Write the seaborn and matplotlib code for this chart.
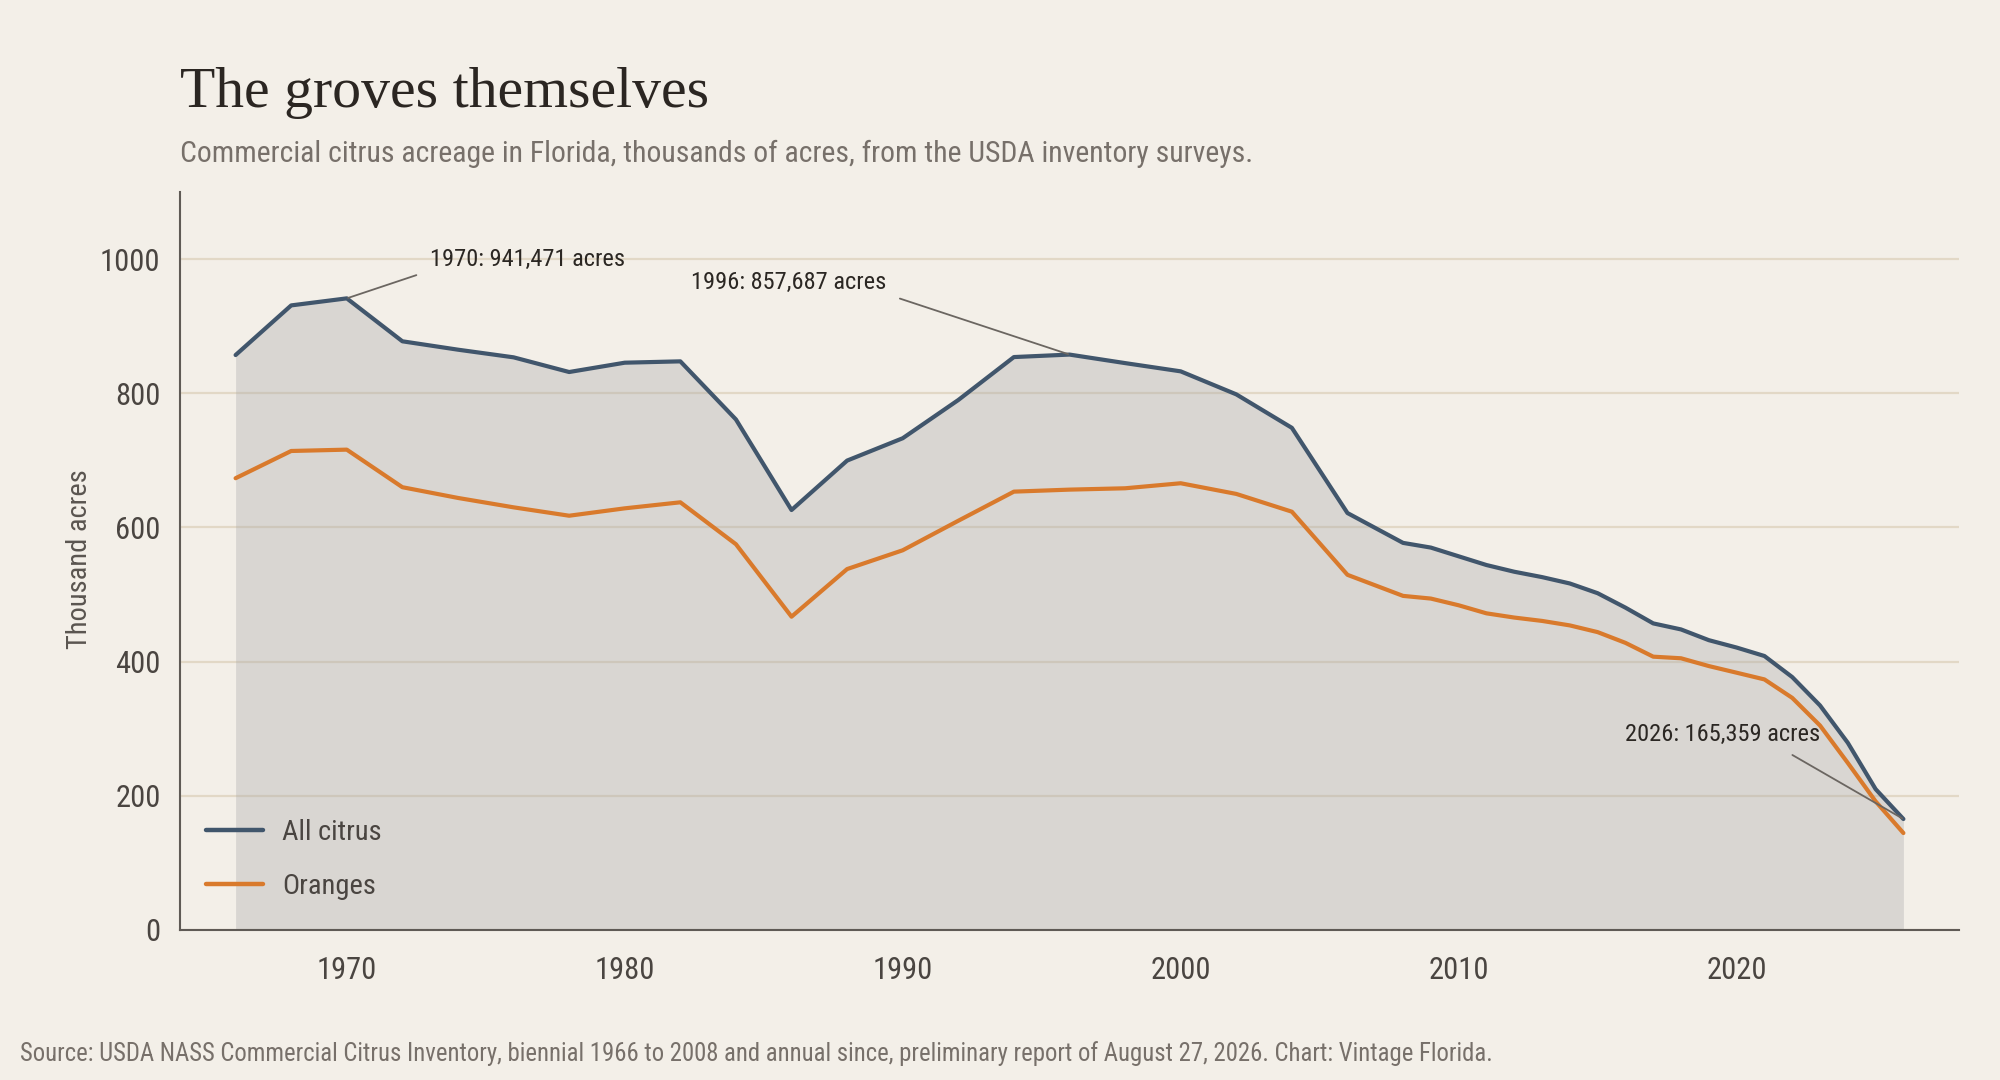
import numpy as np
import pandas as pd
import matplotlib
matplotlib.use('Agg')
import matplotlib.pyplot as plt
from matplotlib import font_manager
import seaborn as sns

# data (thousand acres)
years = [1966, 1968, 1970, 1972, 1974, 1976, 1978, 1980, 1982, 1984, 1986,
         1988, 1990, 1992, 1994, 1996, 1998, 2000, 2002, 2004, 2006, 2008,
         2009, 2010, 2011, 2012, 2013, 2014, 2015, 2016, 2017, 2018, 2019,
         2020, 2021, 2022, 2023, 2024, 2025, 2026]
all_citrus = [857, 931, 941.5, 877.5, 865, 853.6, 831.7, 845.6, 847.6, 761, 626,
              699.7, 733, 790, 854, 857.7, 845, 832.7, 798.4, 748.5, 621.5, 577,
              570, 557, 544, 534, 526, 516.5, 502, 480.5, 457, 448, 432,
              421, 408.4, 377, 334.7, 279, 210, 165.4]
oranges = [673.4, 714, 716, 660, 644, 630, 617.5, 628.5, 637.5, 575, 467,
           538, 566, 610, 653.4, 656.4, 658.4, 665.9, 650, 623.5, 529.4, 498,
           494, 484, 472, 465.7, 460.7, 454, 444, 428, 407.4, 405, 393.4,
           383.5, 373.5, 346, 304.8, 249, 191.7, 144.5]

note_years = [1970, 1996, 2026]
note_values = [941.471, 857.687, 165.359]
note_labels = ['1970: 941,471 acres', '1996: 857,687 acres', '2026: 165,359 acres']

df = pd.DataFrame({
    'year': years * 2,
    'acres': all_citrus + oranges,
    'series': ['All citrus'] * len(years) + ['Oranges'] * len(years),
})

BG = '#f3efe8'
BLUE = '#41566c'
ORANGE = '#d97a2c'

sns.set_style('white', {'axes.facecolor': BG, 'figure.facecolor': BG})

names = {f.name for f in font_manager.fontManager.ttflist}
cond = 'Roboto'
for cand in ['Roboto Condensed', 'Liberation Sans Narrow', 'Open Sans Condensed']:
    if cand in names:
        cond = cand
        break
plt.rcParams['font.family'] = [cond, 'DejaVu Sans']

fig = plt.figure(figsize=(20, 10.8), dpi=100)
ax = fig.add_axes([0.09, 0.1389, 0.8895, 0.6833])

ax.fill_between(years, all_citrus, 0, color='#a9a9a9', alpha=0.35, lw=0, zorder=1)
sns.lineplot(data=df, x='year', y='acres', hue='series',
             palette={'All citrus': BLUE, 'Oranges': ORANGE},
             lw=3.0, ax=ax, zorder=3)

ax.set_xlim(1964, 2028)
ax.set_ylim(0, 1100)
ax.set_xticks([1970, 1980, 1990, 2000, 2010, 2020])
ax.set_yticks([0, 200, 400, 600, 800, 1000])
ax.grid(axis='y', color='#e2d8c6', lw=1.6)
ax.set_axisbelow(True)

for side in ['top', 'right']:
    ax.spines[side].set_visible(False)
for side in ['left', 'bottom']:
    ax.spines[side].set_color('#5f5a55')
    ax.spines[side].set_linewidth(1.5)

ax.tick_params(axis='both', colors='#5f5a55', labelcolor='#4a4541',
               labelsize=22, length=7, width=1.3)
ax.tick_params(axis='x', pad=12)
ax.tick_params(axis='y', pad=7)

ax.set_xlabel('')
ax.set_ylabel('Thousand acres', fontsize=20.5, color='#5a5550')
ax.yaxis.set_label_coords(-0.049, 0.503)

leg = ax.legend(loc='lower left', bbox_to_anchor=(0.0, 0.006), frameon=False,
                fontsize=20.5, handlelength=2.0, handletextpad=0.7,
                labelspacing=0.93)
for t in leg.get_texts():
    t.set_color('#4a4541')
for h in leg.get_lines():
    h.set_linewidth(3.2)

# annotations
offsets = [(1973.0, 983), (1989.4, 948), (2023.0, 274)]
rel = [(0, 0), (1, 0), (0.78, 0)]
aligns = ['left', 'right', 'right']
for i in range(3):
    ax.annotate(note_labels[i], xy=(note_years[i], note_values[i]),
                xytext=offsets[i], ha=aligns[i], va='bottom',
                fontsize=17.6, color='#2b2723',
                arrowprops=dict(arrowstyle='-', color='#6b6661', lw=1.3,
                                relpos=rel[i], shrinkA=8, shrinkB=1))

fig.text(0.09, 0.9009, 'The groves themselves', fontsize=41.6,
         family=['Liberation Serif', 'DejaVu Serif'], color='#2b2622',
         va='baseline')
fig.text(0.09, 0.85, 'Commercial citrus acreage in Florida, thousands of acres, '
         'from the USDA inventory surveys.', fontsize=21.4, color='#77706a',
         va='baseline')
fig.text(0.01, 0.0175, 'Source: USDA NASS Commercial Citrus Inventory, biennial 1966 '
         'to 2008 and annual since, preliminary report of August 27, 2026. '
         'Chart: Vintage Florida.', fontsize=17.8, color='#77706a', va='baseline')

fig.savefig('out.png', dpi=100, facecolor=BG)
